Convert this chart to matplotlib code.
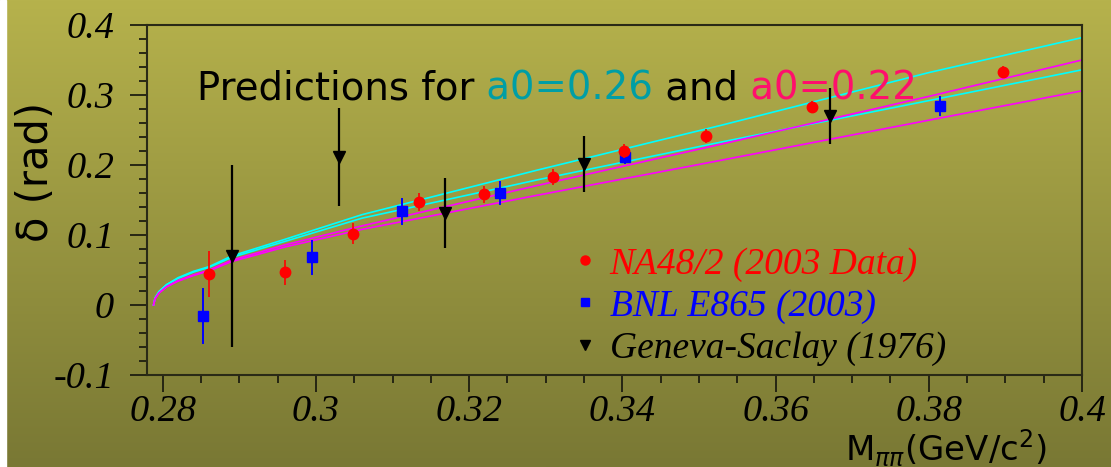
import numpy as np
import matplotlib.pyplot as plt
from matplotlib.lines import Line2D
from matplotlib.ticker import MultipleLocator, FuncFormatter

# ---------------- dati ----------------
# NA48/2 (2003 Data)
na48_x = [0.2860, 0.2960, 0.3049, 0.3135, 0.3220, 0.3309, 0.3402, 0.3509, 0.3647, 0.3897]
na48_y = [0.044, 0.047, 0.102, 0.147, 0.158, 0.183, 0.220, 0.241, 0.283, 0.333]
na48_err = [0.033, 0.018, 0.015, 0.013, 0.012, 0.011, 0.0105, 0.010, 0.009, 0.008]

# BNL E865 (2003)
bnl_x = [0.2852, 0.2995, 0.3112, 0.3240, 0.3404, 0.3815]
bnl_y = [-0.016, 0.068, 0.134, 0.160, 0.212, 0.284]
bnl_err = [0.040, 0.025, 0.019, 0.017, 0.011, 0.014]

# Geneva-Saclay (1976)
gs_x = [0.2890, 0.3030, 0.3169, 0.3350, 0.3671]
gs_y = [0.070, 0.211, 0.131, 0.201, 0.270]
gs_err = [0.130, 0.070, 0.050, 0.040, 0.040]

# bande di predizione (a0=0.26 ciano, a0=0.22 magenta)
curve_x = [0.2788, 0.2790, 0.2795, 0.2805, 0.2820, 0.2840, 0.2861, 0.2890,
           0.2960, 0.3060, 0.3290, 0.3530, 0.3800, 0.4000]
a026_up = [0, 0.010, 0.019, 0.029, 0.039, 0.048, 0.055, 0.070,
           0.094, 0.129, 0.193, 0.257, 0.332, 0.382]
a026_lo = [0, 0.010, 0.019, 0.029, 0.038, 0.047, 0.054, 0.068,
           0.091, 0.124, 0.179, 0.233, 0.292, 0.336]
a022_up = [0, 0.009, 0.017, 0.026, 0.035, 0.043, 0.050, 0.064,
           0.086, 0.113, 0.171, 0.230, 0.298, 0.350]
a022_lo = [0, 0.009, 0.017, 0.026, 0.034, 0.042, 0.049, 0.062,
           0.083, 0.108, 0.157, 0.207, 0.264, 0.306]

fig = plt.figure(figsize=(11.11, 4.67), dpi=100)

# sfondo sfumato
bg = fig.add_axes([0, 0, 1, 1], zorder=-10)
top = np.array([182, 178, 76]) / 255
bot = np.array([121, 120, 52]) / 255
t = np.linspace(0, 1, 256)[:, None]
grad = (top * (1 - t) + bot * t)[:, None, :]
bg.imshow(grad, aspect='auto', extent=[0, 1, 0, 1])
bg.add_patch(plt.Rectangle((0, 0), 6 / 1111, 1, color='white'))
bg.set_xlim(0, 1)
bg.set_ylim(0, 1)
bg.axis('off')

ax = fig.add_axes([147.4 / 1111, 92 / 467, 934.6 / 1111, 350 / 467])
ax.set_facecolor('none')

ax.plot(curve_x, a026_up, color='#00ffff', lw=1.2, zorder=2)
ax.plot(curve_x, a026_lo, color='#00ffff', lw=1.2, zorder=2)
ax.plot(curve_x, a022_up, color='#ff00ff', lw=1.2, zorder=2)
ax.plot(curve_x, a022_lo, color='#ff00ff', lw=1.2, zorder=2)

ax.errorbar(gs_x, gs_y, yerr=gs_err, fmt='v', color='black', ms=8, elinewidth=1.6, capsize=0, zorder=3)
ax.errorbar(bnl_x, bnl_y, yerr=bnl_err, fmt='s', color='#0000ff', ms=7.5, elinewidth=1.4, capsize=0, zorder=4)
ax.errorbar(na48_x, na48_y, yerr=na48_err, fmt='o', color='#ff0000', ms=7.5, elinewidth=1.2, capsize=0, zorder=5)

ax.set_xlim(0.2780, 0.4)
ax.set_ylim(-0.1, 0.4)
ax.xaxis.set_major_locator(MultipleLocator(0.02))
ax.xaxis.set_minor_locator(MultipleLocator(0.005))
ax.yaxis.set_major_locator(MultipleLocator(0.1))
ax.yaxis.set_minor_locator(MultipleLocator(0.02))
fmt = FuncFormatter(lambda v, p: '%g' % round(v, 3))
ax.xaxis.set_major_formatter(fmt)
ax.yaxis.set_major_formatter(fmt)

ax.tick_params(which='both', direction='out', color='#1e1e10', width=1.3, top=False, right=False)
ax.tick_params(which='major', length=12)
ax.tick_params(which='minor', length=6)
ax.tick_params(axis='y', which='major', pad=12)
ax.tick_params(axis='x', which='major', pad=2)
for lab in ax.get_xticklabels() + ax.get_yticklabels():
    lab.set_fontfamily('Liberation Serif')
    lab.set_fontstyle('italic')
    lab.set_fontsize(27.5)
for s in ax.spines.values():
    s.set_color('#2a2a16')
    s.set_linewidth(1.5)

# testo predizioni, a pezzi colorati
pfont = dict(family='DejaVu Sans', size=27.8)
t1 = ax.text(0.053, 0.786, 'Predictions for', transform=ax.transAxes, color='black', va='baseline', **pfont)
t2 = ax.annotate(' a0=0.26', xy=(1, 0), xycoords=t1, va='bottom', color='#009ea5', **pfont)
t3 = ax.annotate(' and', xy=(1, 0), xycoords=t2, va='bottom', color='black', **pfont)
t4 = ax.annotate(' a0=0.22', xy=(1, 0), xycoords=t3, va='bottom', color='#ff0f6c', **pfont)

# legenda
handles = [Line2D([], [], ls='none', marker='o', color='#ff0000', ms=6.5),
           Line2D([], [], ls='none', marker='s', color='#0000ff', ms=6),
           Line2D([], [], ls='none', marker='v', color='black', ms=6.5)]
labels = ['NA48/2 (2003 Data)', 'BNL E865 (2003)', 'Geneva-Saclay (1976)']
leg = ax.legend(handles, labels, loc='upper left', bbox_to_anchor=(0.4506, 0.366),
                frameon=False, borderpad=0, borderaxespad=0, handlelength=0.9,
                handletextpad=0.2, labelspacing=0.2,
                prop={'family': 'Liberation Serif', 'style': 'italic', 'size': 27})
for txt, c in zip(leg.get_texts(), ['#ff0000', '#0000ff', 'black']):
    txt.set_color(c)

fig.text(36 / 1111, 1 - 172 / 467, 'δ (rad)', rotation=90, ha='center', va='center',
         family='DejaVu Sans', size=30)
fig.text(1047 / 1111, 1 - 448 / 467, r'M$_{\pi\pi}$(GeV/c$^2$)', ha='right', va='center',
         family='DejaVu Sans', size=24.5)

plt.savefig('out.png', dpi=100)
